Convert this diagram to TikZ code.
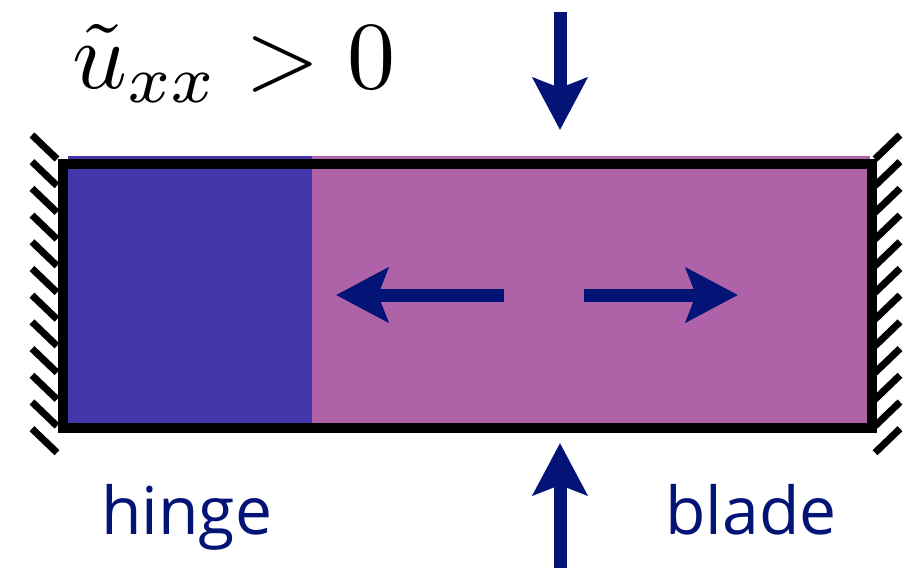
\documentclass[tikz,border=0pt]{standalone}
\usepackage{fontspec}
\newfontfamily\labelfont{Open Sans}
\usetikzlibrary{arrows.meta}
\definecolor{hingeblue}{RGB}{67,53,170}
\definecolor{bladepink}{RGB}{174,98,168}
\definecolor{navy}{RGB}{3,20,118}
\tikzset{
  force/.style={draw=navy, line width=13pt, line cap=butt,
    -{Stealth[length=52pt, width=54pt, inset=10pt, fill=navy]}},
  hatch/.style={draw=black, line width=7pt, line cap=butt},
  lbl/.style={text=navy, font=\labelfont\fontsize{66}{78}\selectfont, inner sep=0pt},
}
\begin{document}
\begin{tikzpicture}[x=1pt,y=-1pt]
\useasboundingbox (0,0) rectangle (911,568);
% fills
\fill[hingeblue] (68,156) rectangle (312,425);
\fill[bladepink] (312,156) rectangle (870,425);
% border
\draw[line width=10pt] (63,164) rectangle (872,428);
% hatching
\foreach \i in {0,...,11}{
  \draw[hatch] (32,{135+26.7*\i}) -- (57,{159+26.7*\i});
  \draw[hatch] (875,{159+26.7*\i}) -- (900,{135+26.7*\i});
}
% arrows
\coordinate (ts) at (560,12);  \coordinate (te) at (560,130);
\coordinate (bs) at (560,568); \coordinate (be) at (560,443);
\coordinate (ls) at (504,295); \coordinate (le) at (336,295);
\coordinate (rs) at (584,295); \coordinate (re) at (738,295);
\draw[force] (ts) -- (te);
\draw[force] (bs) -- (be);
\draw[force] (ls) -- (le);
\draw[force] (rs) -- (re);
% texts
\node[anchor=base west, inner sep=0pt] (cond) at (72,88) {\scalebox{9.6}{$\tilde{u}_{xx} > 0$}};
\node[lbl, anchor=base west] (hinge) at (101,534) {hinge};
\node[lbl, anchor=base west] (blade) at (665,534) {blade};
\end{tikzpicture}
\end{document}
